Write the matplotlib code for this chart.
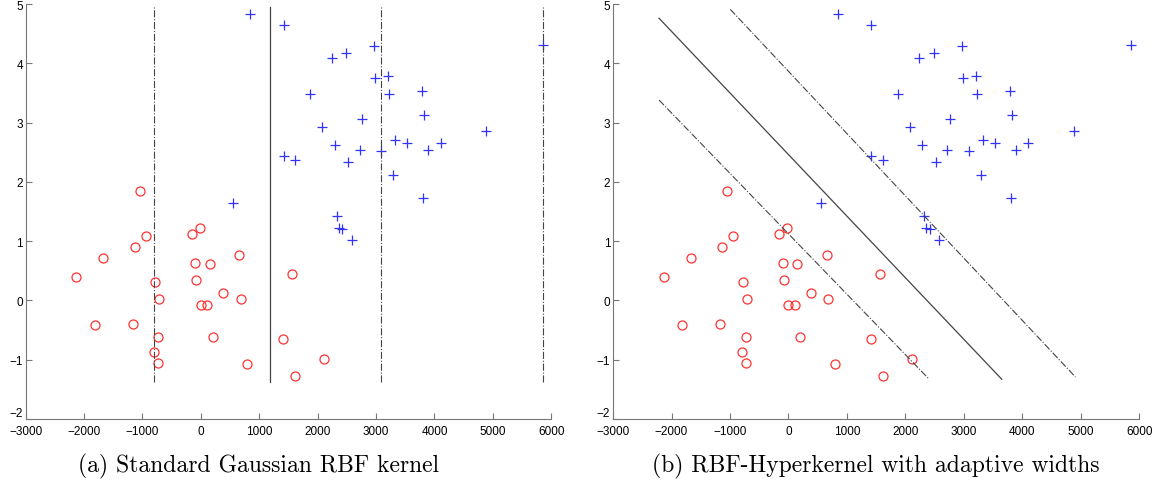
import matplotlib
matplotlib.use("Agg")
import matplotlib.pyplot as plt
import numpy as np

# class +1 (blue crosses)
pos_x = [843, 1418, 1418, 1618, 551, 2972, 2485, 2237, 5858, 2989, 3201, 1866,
         3218, 3786, 2754, 3815, 2072, 4877, 3321, 3535, 4103, 2289, 2719, 3087,
         3895, 2525, 3294, 3798, 2323, 2358, 2416, 2582]
pos_y = [4.84, 4.64, 2.44, 2.37, 1.65, 4.29, 4.18, 4.09, 4.31, 3.76, 3.78, 3.49,
         3.49, 3.53, 3.06, 3.12, 2.93, 2.85, 2.70, 2.66, 2.66, 2.62, 2.53, 2.52,
         2.53, 2.34, 2.12, 1.73, 1.43, 1.23, 1.21, 1.02]

# class -1 (red circles)
neg_x = [-1050, -941, -1136, -1675, -2134, -1819, -1165, -780, -717, -729, -803,
         -729, -155, -23, -98, 149, -75, -6, 109, 384, 654, 683, 201, 797, 1561,
         1406, 1612, 2106]
neg_y = [1.84, 1.09, 0.91, 0.71, 0.39, -0.42, -0.40, 0.31, 0.03, -0.61, -0.87,
         -1.05, 1.12, 1.22, 0.64, 0.61, 0.34, -0.07, -0.07, 0.12, 0.77, 0.03,
         -0.62, -1.08, 0.44, -0.65, -1.28, -0.99]

# (a) contour lines of the standard RBF kernel: vertical lines
a_margin_x = [-802, 3087, 5858]
a_boundary_x = 1188
a_ylim = [-1.38, 4.95]

# (b) contour lines of the hyperkernel: endpoints
b_boundary = ([-2213, 3648], [4.76, -1.33])
b_margin_up = ([-995, 4906], [4.91, -1.29])
b_margin_lo = ([-2213, 2407], [3.38, -1.33])

captions = ["(a) Standard Gaussian RBF kernel",
            "(b) RBF-Hyperkernel with adaptive widths"]
xticks = list(range(-3000, 6001, 1000))
yticks = list(range(-2, 6))

fig = plt.figure(figsize=(11.56, 5.02), dpi=100)
ax1 = fig.add_axes([0.0222, 0.1633, 0.4547, 0.8267])
ax2 = fig.add_axes([0.5303, 0.1633, 0.4553, 0.8267])

line_col = '#444444'
for ax in (ax1, ax2):
    ax.plot(pos_x, pos_y, '+', color='#3333ff', markersize=7, markeredgewidth=0.9)
    ax.plot(neg_x, neg_y, 'o', mfc='none', mec='#ff3333', markersize=6.5, markeredgewidth=0.9)
    ax.set_xlim(-3000, 6000)
    ax.set_ylim(-2, 5)
    ax.set_xticks(xticks)
    ax.set_yticks(yticks)
    ax.set_xticklabels([str(t).replace('-', '\u2212') for t in xticks])
    ax.set_yticklabels([str(t).replace('-', '\u2212') for t in yticks])
    for s in ('top', 'right'):
        ax.spines[s].set_visible(False)
    for s in ('left', 'bottom'):
        ax.spines[s].set_color('#777777')
    ax.tick_params(direction='in', length=4, color='#777777', labelsize=8.5)
    ax.tick_params(axis='x', pad=4)
    ax.tick_params(axis='y', pad=2)
    for lab in ax.get_xticklabels() + ax.get_yticklabels():
        lab.set_family('Liberation Sans')
    # MATLAB puts the lowest y label a little higher
    ax.get_yticklabels()[0].set_va('bottom')

for xv in a_margin_x:
    ax1.plot([xv, xv], a_ylim, '-.', color=line_col, linewidth=0.8)
ax1.plot([a_boundary_x, a_boundary_x], a_ylim, '-', color=line_col, linewidth=0.9)

ax2.plot(*b_boundary, '-', color=line_col, linewidth=0.9)
ax2.plot(*b_margin_up, '-.', color=line_col, linewidth=0.8)
ax2.plot(*b_margin_lo, '-.', color=line_col, linewidth=0.8)

fig.text(259 / 1156, 1 - 466 / 502, captions[0], ha='center', va='center',
         fontsize=17, family='cmr10')
fig.text(876 / 1156, 1 - 466 / 502, captions[1], ha='center', va='center',
         fontsize=17, family='cmr10')

fig.savefig('out.png', dpi=100)
